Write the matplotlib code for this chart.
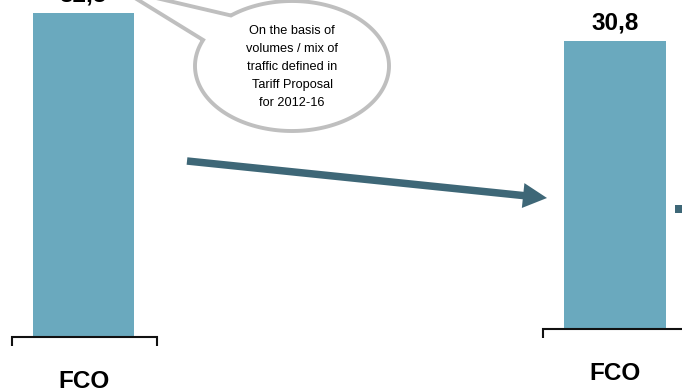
import numpy as np
import matplotlib
matplotlib.use("Agg")
import matplotlib.pyplot as plt
from matplotlib.patches import Polygon, FancyArrow, Rectangle

plt.rcParams['font.family'] = ['Liberation Sans', 'DejaVu Sans']

# ---- data ----
categories_left = ["FCO"]
values_left = [32.5]
categories_right = ["FCO"]
values_right = [30.8]
callout_text = "On the basis of\nvolumes / mix of\ntraffic defined in\nTariff Proposal\nfor 2012-16"

BAR_COLOR = "#6AA9BE"
ARROW_COLOR = "#3E6777"
W, H = 682, 391

fig = plt.figure(figsize=(W / 100, H / 100), dpi=100)

def px_axes(x0, y_bottom, w, h):
    return fig.add_axes([x0 / W, (H - y_bottom) / H, w / W, h / H])

def fmt(v):
    return f"{v:.1f}".replace(".", ",")

def bar_panel(ax, cats, vals, ytop):
    bars = ax.bar(range(len(cats)), vals, width=0.703, color=BAR_COLOR)
    ax.set_xlim(-0.5, 0.5)
    ax.set_ylim(0, ytop)
    ax.bar_label(bars, labels=[fmt(v) for v in vals], padding=4.5,
                 fontsize=17.5, fontweight='bold', clip_on=False)
    ax.set_xticks(range(len(cats)))
    ax.set_xticklabels(cats, fontsize=17.5, fontweight='bold')
    ax.tick_params(axis='x', length=0, pad=24.3)
    ax.set_yticks([])
    for s in ax.spines.values():
        s.set_visible(False)
    ax.patch.set_alpha(0)

ax1 = px_axes(11, 336, 145, 336)
bar_panel(ax1, categories_left, values_left, 336 * 32.5 / 323)
ax2 = px_axes(542.5, 328, 145, 328)
bar_panel(ax2, categories_right, values_right, 328 * 30.8 / 287)

# ---- overlay in pixel coordinates ----
ov = fig.add_axes([0, 0, 1, 1], zorder=5)
ov.set_xlim(0, W)
ov.set_ylim(H, 0)
ov.axis('off')
ov.patch.set_alpha(0)

# brackets
ov.plot([12, 12, 157, 157], [346, 337, 337, 346], color='#111111', lw=1.5,
        solid_capstyle='butt', solid_joinstyle='miter')
ov.plot([543, 543, 690], [338, 329, 329], color='#111111', lw=1.5,
        solid_capstyle='butt', solid_joinstyle='miter')

# arrow
ov.add_patch(FancyArrow(187, 161, 547 - 187, 198 - 161, width=7.5, head_width=25,
                        head_length=24, length_includes_head=True,
                        color=ARROW_COLOR, lw=0))
ov.add_patch(Rectangle((675, 205), 12, 8, color=ARROW_COLOR, lw=0))

# callout ellipse with tail
cx, cy, a, b = 292, 66, 97, 65
t = np.radians(np.linspace(-129, 203.6, 300))
pts = np.column_stack([cx + a * np.cos(t), cy + b * np.sin(t)])
pts = np.vstack([pts, [[122, -10]]])
ov.add_patch(Polygon(pts, closed=True, facecolor='white', edgecolor='#BFBFBF',
                     lw=2.8, joinstyle='miter', clip_on=False))
ov.text(cx, cy + 1, callout_text, ha='center', va='center', fontsize=9.2,
        linespacing=1.68, color='black')

fig.savefig("out.png", dpi=100)
